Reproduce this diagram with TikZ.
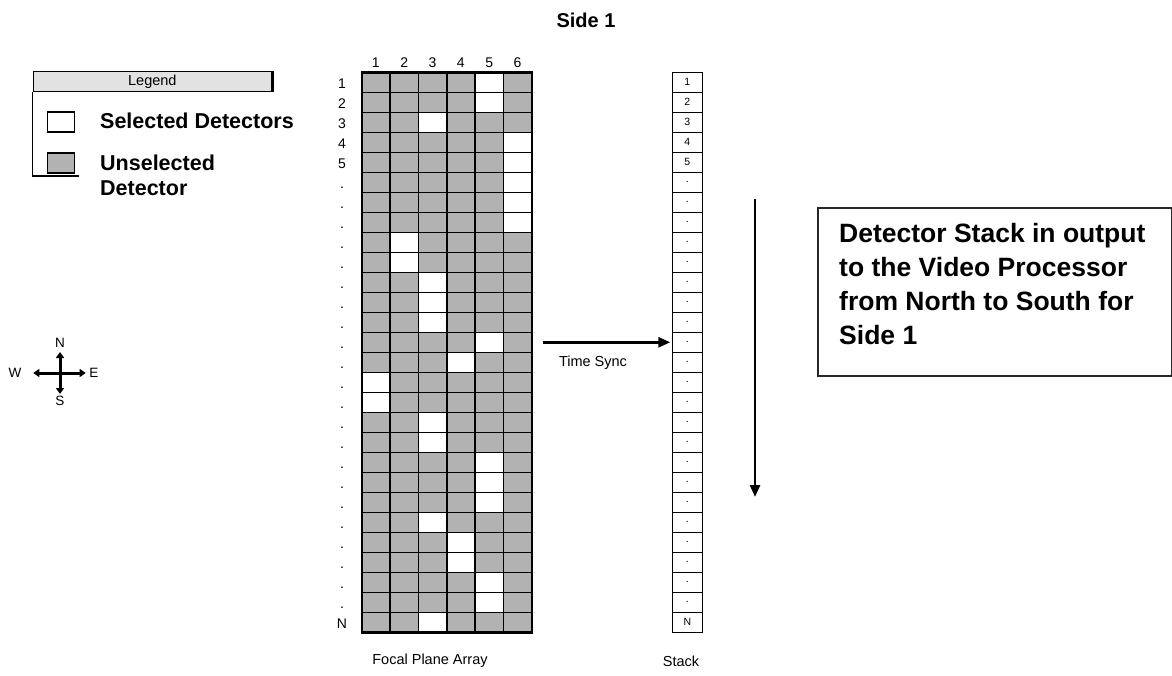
\documentclass[tikz,border=0pt]{standalone}
\usepackage{fontspec}
\setmainfont{Liberation Sans}
\usetikzlibrary{arrows.meta}
\definecolor{cellgray}{RGB}{178,178,178}
\definecolor{legendgray}{RGB}{226,226,226}
\definecolor{boxline}{RGB}{40,40,40}
\begin{document}
\begin{tikzpicture}[x=1pt,y=-1pt,
  lbl/.style={font=\fontsize{14}{16}\selectfont, inner sep=0pt},
  cell/.style={draw=black, line width=1.6pt, minimum width=28.333pt, minimum height=20pt, inner sep=0pt, outer sep=0pt},
  stackcell/.style={draw=black, line width=1.6pt, minimum width=30pt, minimum height=20pt, inner sep=0pt, outer sep=0pt, font=\fontsize{10.5}{12}\selectfont},
  thickarrow/.style={line width=2.6pt, -{Triangle[length=12pt,width=10pt]}},
  comparrow/.style={line width=3pt, {Triangle[length=6pt,width=8pt]}-{Triangle[length=6pt,width=8pt]}},
  boxtext/.style={font=\bfseries\fontsize{26.5}{30}\selectfont, anchor=base west, inner sep=0pt},
  legtext/.style={font=\bfseries\fontsize{21.5}{25}\selectfont, anchor=base west, inner sep=0pt},
  swatch/.style={draw=black, line width=1.5pt, minimum width=27pt, minimum height=20pt, inner sep=0pt}
]
\useasboundingbox (0,0) rectangle (1172,675);

% title
\node[font=\bfseries\fontsize{20}{24}\selectfont, inner sep=0pt] (title) at (586,20) {Side 1};

% legend
\node[draw=black, fill=legendgray, line width=1.2pt, minimum width=238.5pt, minimum height=20pt, inner sep=0pt, anchor=north west] (leghead) at (32.5,71) {};
\node[lbl, font=\fontsize{14.5}{16}\selectfont] (legtitle) at (leghead.center) {Legend};
\draw[line width=2.6pt] (leghead.north east) -- (leghead.south east);
\coordinate (legbl) at (32.5,176);
\coordinate (legbr) at (79,176);
\draw[line width=1.3pt] (leghead.south west) -- (legbl) -- (legbr);
\node[swatch, fill=white] (sw1) at (61,122) {};
\node[swatch, fill=cellgray] (sw2) at (61,163) {};
\node[legtext] (lt1) at (100,128.5) {Selected Detectors};
\node[legtext] (lt2) at (100,170) {Unselected};
\node[legtext] (lt3) at (100,195) {Detector};

% compass
\coordinate (cW) at (33.3,373);
\coordinate (cE) at (85.7,373);
\coordinate (cN) at (60,352);
\coordinate (cS) at (60,394);
\draw[comparrow] (cW) -- (cE);
\draw[comparrow] (cS) -- (cN);
\node[lbl, font=\fontsize{13.5}{16}\selectfont] (lN) at (60,343) {N};
\node[lbl, font=\fontsize{13.5}{16}\selectfont] (lS) at (60,401) {S};
\node[lbl, font=\fontsize{13.5}{16}\selectfont] (lE) at (94,372.5) {E};
\node[lbl, font=\fontsize{13.5}{16}\selectfont] (lW) at (15,372.5) {W};

% focal plane array
\foreach \r in {1,...,28}{
  \pgfmathtruncatemacro\wc{{0,5,5,3,6,6,6,6,6,2,2,3,3,3,5,4,1,1,3,3,5,5,5,3,4,4,5,5,3}[\r]}
  \foreach \c in {1,...,6}{
    \ifnum\c=\wc\relax\def\cf{white}\else\def\cf{cellgray}\fi
    \node[cell, fill=\cf] (g-\r-\c) at ({361.7+28.333*(\c-0.5)},{72.3+20*(\r-0.5)}) {};
  }
}
\draw[line width=2.4pt] (g-1-1.north west) rectangle (g-28-6.south east);

% column labels
\foreach \c in {1,...,6}{
  \node[lbl, anchor=base] (cl-\c) at ({361.7+28.333*(\c-0.5)},67.5) {\c};
}
% row labels
\foreach \r in {1,...,28}{
  \ifnum\r<6\relax\def\rl{\r}\else\ifnum\r=28\relax\def\rl{N}\else\def\rl{.}\fi\fi
  \node[lbl, anchor=base] (rl-\r) at (342,{72.3+20*(\r-0.5)+6}) {\rl};
}

% stack
\foreach \k in {1,...,28}{
  \ifnum\k<6\relax\def\sl{\k}\else\ifnum\k=28\relax\def\sl{N}\else\def\sl{.}\fi\fi
  \node[stackcell] (s\k) at (687.3,{72.3+20*(\k-0.5)}) {\sl};
}

% time sync arrow
\draw[thickarrow] ([xshift=11pt]g-14-6.east) -- ([xshift=-2pt]s14.west);
\node[lbl, font=\fontsize{14.5}{16}\selectfont] (tsync) at (593,363) {Time Sync};

% bottom labels
\node[lbl, font=\fontsize{14.5}{16}\selectfont] (fpa) at (430,661) {Focal Plane Array};
\node[lbl, font=\fontsize{14.5}{16}\selectfont] (stk) at (681,661) {Stack};

% long arrow
\coordinate (la1) at (755,199);
\coordinate (la2) at (755,497);
\draw[thickarrow] (la1) -- (la2);

% right box
\node[draw=boxline, line width=1.4pt, minimum width=353.5pt, minimum height=168pt, inner sep=0pt, anchor=north west] (box) at (817.3,207.3) {};
\node[boxtext] (bt1) at (839,242) {Detector Stack in output};
\node[boxtext] (bt2) at (839,276) {to the Video Processor};
\node[boxtext] (bt3) at (839,310) {from North to South for};
\node[boxtext] (bt4) at (839,344) {Side 1};
\end{tikzpicture}
\end{document}
